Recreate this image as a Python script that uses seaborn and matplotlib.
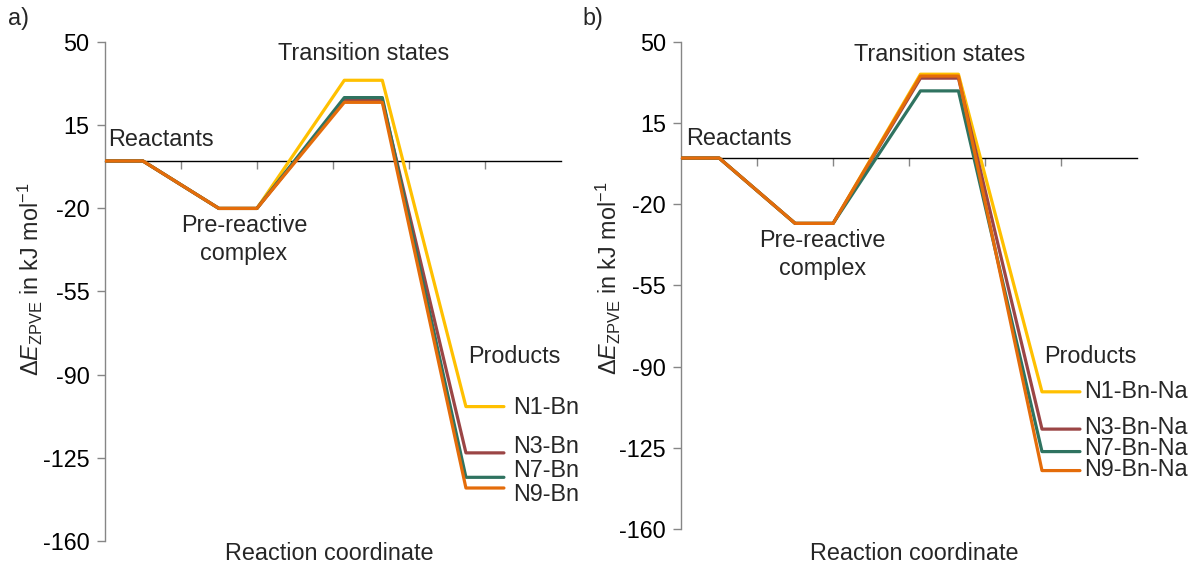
import numpy as np
import pandas as pd
import matplotlib
matplotlib.use("Agg")
import matplotlib.pyplot as plt
import seaborn as sns

# ---------------- data ----------------
# reaction coordinate: start / end of each plateau (Reactants, Pre-reactive, TS, Products)
stage_start = [0.0, 1.5, 3.15, 4.75]
stage_end = [0.5, 2.0, 3.65, 5.25]

species_a = ["N1-Bn", "N3-Bn", "N7-Bn", "N9-Bn"]
a_N1 = [0, -20, 34.0, -103.5]
a_N3 = [0, -20, 25.5, -123.0]
a_N7 = [0, -20, 26.7, -133.3]
a_N9 = [0, -20, 24.7, -137.8]

species_b = ["N1-Bn-Na", "N3-Bn-Na", "N7-Bn-Na", "N9-Bn-Na"]
b_N1 = [0, -28.2, 36.2, -100.9]
b_N3 = [0, -28.2, 34.5, -117.0]
b_N7 = [0, -28.2, 29.0, -126.7]
b_N9 = [0, -28.2, 35.4, -134.9]

# product label heights (spread so they do not overlap)
label_y_a = [-104.0, -120.4, -130.3, -140.6]
label_y_b = [-100.8, -116.1, -125.5, -134.6]

yticks = [-160, -125, -90, -55, -20, 15, 50]
colors = ["#FFC000", "#9B4545", "#2F7360", "#E46C0A"]

sns.set_theme(style="white")
plt.rcParams["font.family"] = ["Liberation Sans", "DejaVu Sans"]
plt.rcParams["mathtext.fontset"] = "custom"
plt.rcParams["mathtext.rm"] = "Liberation Sans"
plt.rcParams["mathtext.it"] = "Liberation Sans:italic"
FS = 16.8


def build(species, series):
    rows = []
    for name, vals in zip(species, series):
        for s, e, v in zip(stage_start, stage_end, vals):
            rows.append({"x": s, "E": v, "species": name})
            rows.append({"x": e, "E": v, "species": name})
    return pd.DataFrame(rows)


def draw(ax, species, series, label_y, pre_xy, react_xy, ts_xy, prod_xy, lab_x):
    df = build(species, series)
    sns.lineplot(data=df, x="x", y="E", hue="species", hue_order=species,
                 palette=dict(zip(species, colors)), sort=False, estimator=None,
                 linewidth=2.3, legend=False, ax=ax, zorder=3)
    ax.set_xlim(0, 6)
    ax.set_ylim(-160, 50)
    ax.set_yticks(yticks)
    ax.set_yticklabels([str(t) for t in yticks], fontsize=FS, color="black")
    ax.set_xticks([1, 2, 3, 4, 5])
    ax.set_xticklabels([])
    ax.set_xlabel("")
    ax.set_ylabel("")
    for sp in ["top", "right"]:
        ax.spines[sp].set_visible(False)
    ax.spines["left"].set_color("#868686")
    ax.spines["left"].set_linewidth(1.0)
    ax.spines["bottom"].set_position(("data", 0))
    ax.spines["bottom"].set_color("black")
    ax.spines["bottom"].set_linewidth(1.0)
    ax.spines["bottom"].set_zorder(1)
    ax.tick_params(axis="y", direction="out", length=6, width=1, color="#868686", pad=5, left=True)
    ax.tick_params(axis="x", direction="out", length=6, width=1, color="#868686", bottom=True)
    ax.text(react_xy[0], react_xy[1], "Reactants", fontsize=FS, ha="left", va="center")
    ax.text(pre_xy[0], pre_xy[1], "Pre-reactive\ncomplex", fontsize=FS, ha="center",
            va="center", linespacing=1.3)
    ax.text(ts_xy[0], ts_xy[1], "Transition states", fontsize=FS, ha="center", va="center")
    ax.text(prod_xy[0], prod_xy[1], "Products", fontsize=FS, ha="center", va="center")
    for name, y in zip(species, label_y):
        ax.text(lab_x, y, name, fontsize=FS, ha="left", va="center")


fig = plt.figure(figsize=(11.93, 5.67), dpi=100)
ax_a = fig.add_axes([0.0879, 0.0464, 0.3823, 0.879])
ax_b = fig.add_axes([0.571, 0.0675, 0.382, 0.858])

draw(ax_a, species_a, [a_N1, a_N3, a_N7, a_N9], label_y_a,
     pre_xy=(1.83, -33), react_xy=(0.04, 9), ts_xy=(3.40, 45.2), prod_xy=(5.39, -82.4),
     lab_x=5.37)
draw(ax_b, species_b, [b_N1, b_N3, b_N7, b_N9], label_y_b,
     pre_xy=(1.86, -41.6), react_xy=(0.07, 8.3), ts_xy=(3.40, 44.7), prod_xy=(5.39, -85.7),
     lab_x=5.30)

ylab = r"$\Delta E_{\mathrm{ZPVE}}$ in kJ mol$^{-1}$"
ax_a.text(-0.163, 0.525, ylab, transform=ax_a.transAxes, rotation=90, fontsize=FS,
          ha="center", va="center")
ax_b.text(-0.160, 0.514, ylab, transform=ax_b.transAxes, rotation=90, fontsize=FS,
          ha="center", va="center")

fig.text(329 / 1193, 1 - 553 / 567, "Reaction coordinate", fontsize=FS, ha="center", va="center")
fig.text(914 / 1193, 1 - 553 / 567, "Reaction coordinate", fontsize=FS, ha="center", va="center")

fig.text(8 / 1193, 1 - 18 / 567, "a)", fontsize=FS, ha="left", va="center")
fig.text(582 / 1193, 1 - 18 / 567, "b)", fontsize=FS, ha="left", va="center")

fig.savefig("out.png", dpi=100)
